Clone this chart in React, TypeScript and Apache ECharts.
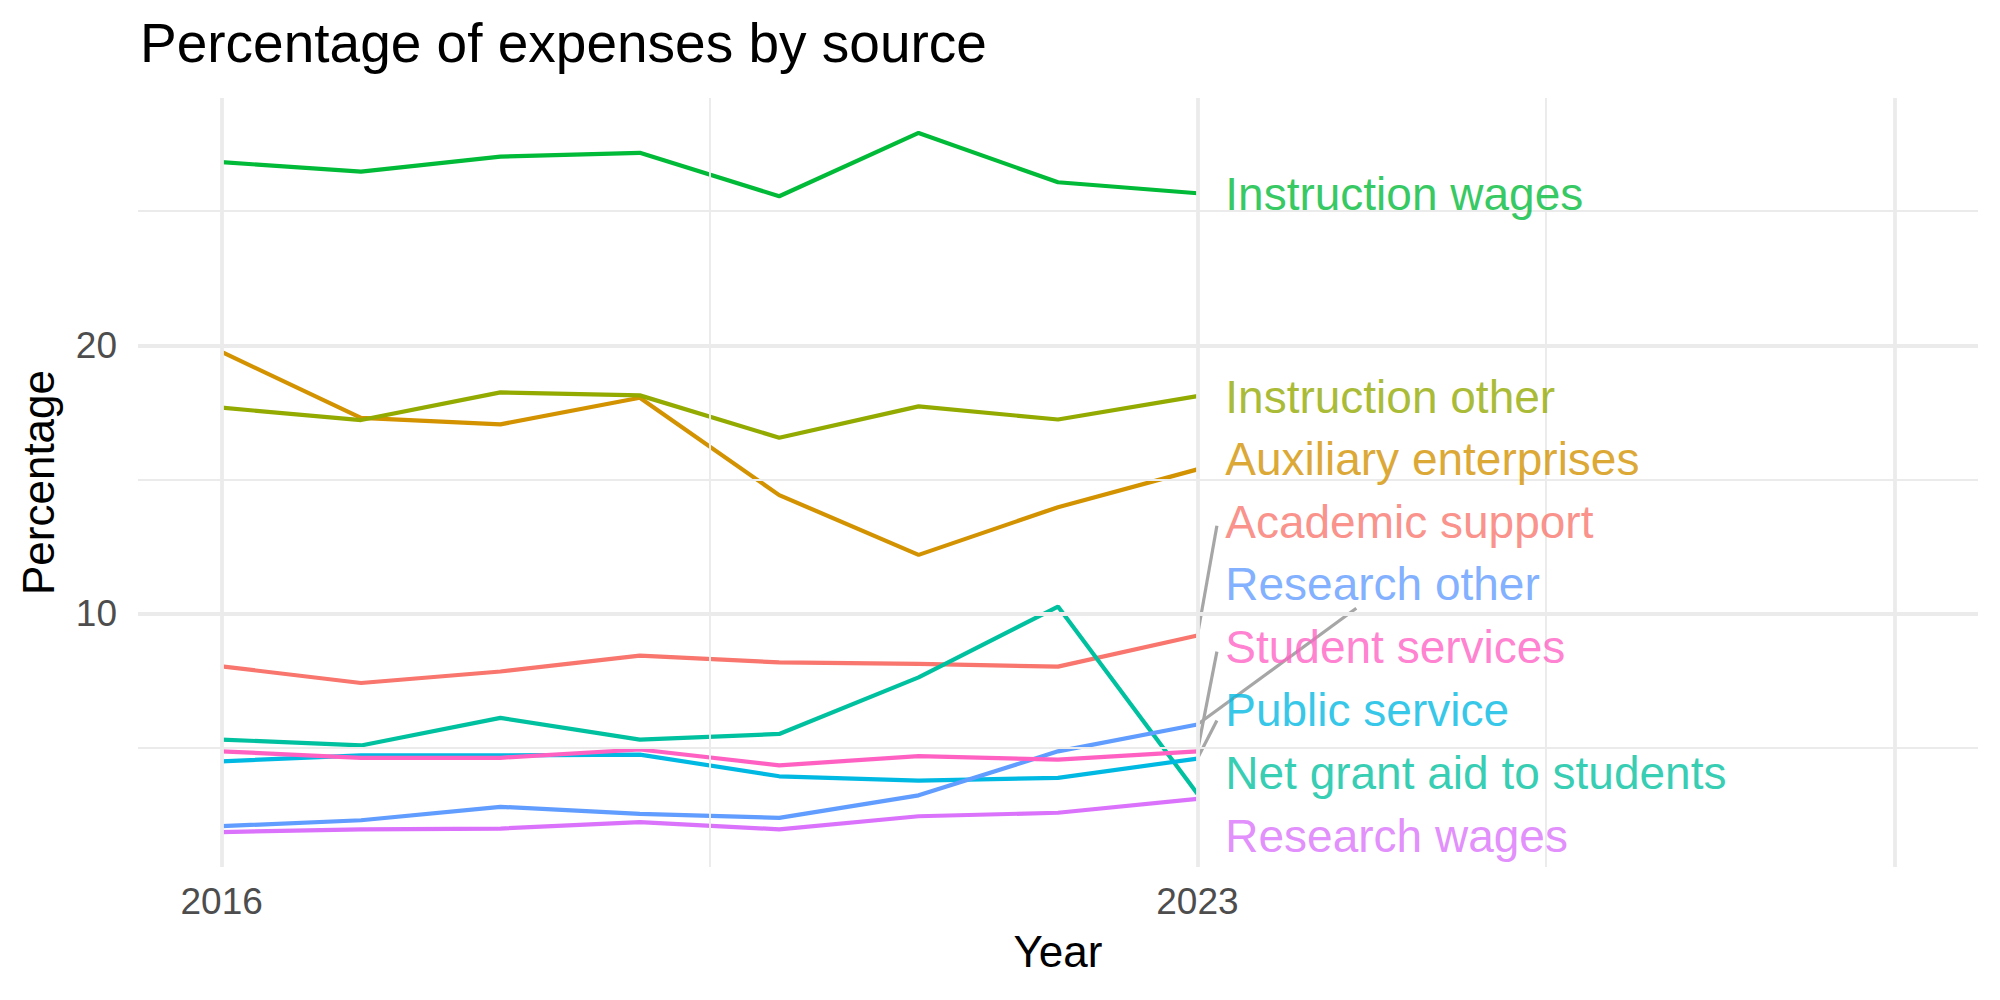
import React, { useEffect, useRef } from "react";
import * as echarts from "echarts";

const years = [2016, 2017, 2018, 2019, 2020, 2021, 2022, 2023];

const seriesNames = [
  "Academic support",
  "Auxiliary enterprises",
  "Instruction other",
  "Instruction wages",
  "Net grant aid to students",
  "Public service",
  "Research other",
  "Research wages",
  "Student services",
];

const seriesColors = [
  "#F8766D",
  "#D39200",
  "#93AA00",
  "#00BA38",
  "#00C19F",
  "#00B9E3",
  "#619CFF",
  "#DB72FB",
  "#FF61C3",
];

const academicSupport = [8.02, 7.4, 7.83, 8.42, 8.17, 8.11, 8.01, 9.17];
const auxiliaryEnterprises = [19.75, 17.29, 17.05, 18.04, 14.41, 12.18, 13.96, 15.37];
const instructionOther = [17.67, 17.21, 18.24, 18.13, 16.55, 17.72, 17.23, 18.1];
const instructionWages = [26.83, 26.48, 27.04, 27.18, 25.56, 27.92, 26.08, 25.67];
const netGrantAid = [5.29, 5.07, 6.1, 5.29, 5.5, 7.61, 10.25, 3.27];
const publicService = [4.48, 4.7, 4.7, 4.73, 3.92, 3.76, 3.86, 4.58];
const researchOther = [2.06, 2.28, 2.78, 2.52, 2.37, 3.21, 4.85, 5.85];
const researchWages = [1.84, 1.94, 1.97, 2.21, 1.94, 2.43, 2.56, 3.08];
const studentServices = [4.85, 4.61, 4.61, 4.92, 4.33, 4.67, 4.54, 4.85];

const seriesValues = [
  academicSupport,
  auxiliaryEnterprises,
  instructionOther,
  instructionWages,
  netGrantAid,
  publicService,
  researchOther,
  researchWages,
  studentServices,
];

// repelled label positions (data units), same order as seriesNames
const labelX = 2023.2;
const labelY = [13.42, 15.75, 18.06, 25.63, 4.06, 6.41, 11.08, 1.71, 8.75];

// leader segments: series index -> label-side end point (data units)
const leaderSeries = [0, 6, 8, 5];
const leaderEndX = [2023.14, 2024.14, 2023.14, 2023.14];
const leaderEndY = [13.27, 10.19, 8.57, 6.0];

const xBreaks = [2016, 2023, 2028];
const xBreakLabels = [2016, 2023];
const xMinorBreaks = [2019.5, 2025.5];
const xLimits = [2016, 2028];
const yBreaks = [10, 20];
const yMinorBreaks = [5, 15, 25];

const FONT = "'Liberation Sans', Arial, Helvetica, sans-serif";

export default function App() {
  const ref = useRef<HTMLDivElement>(null);

  useEffect(() => {
    if (!ref.current) return;
    document.body.style.margin = "0";
    const chart = echarts.init(ref.current, null, { renderer: "svg" });

    const allVals = seriesValues.flat();
    const yMinD = Math.min(...allVals);
    const yMaxD = Math.max(...allVals);
    const yExp = (yMaxD - yMinD) * 0.05;
    const xExp = (xLimits[1] - xLimits[0]) * 0.05;

    const gridColor = "#EBEBEB";
    const majorW = 3.8;
    const minorW = 1.9;

    const gridLineData: any[] = [
      ...xMinorBreaks.map((v) => ({ xAxis: v, lineStyle: { width: minorW } })),
      ...yMinorBreaks.map((v) => ({ yAxis: v, lineStyle: { width: minorW } })),
      ...xBreaks.map((v) => ({ xAxis: v, lineStyle: { width: majorW } })),
      ...yBreaks.map((v) => ({ yAxis: v, lineStyle: { width: majorW } })),
    ];

    const series: any[] = [
      {
        type: "line",
        data: [],
        z: 0,
        silent: true,
        markLine: {
          silent: true,
          symbol: ["none", "none"],
          label: { show: false },
          lineStyle: { color: gridColor, type: "solid" },
          emphasis: { disabled: true },
          data: gridLineData,
        },
      },
    ];

    seriesNames.forEach((name, i) => {
      series.push({
        name,
        type: "line",
        z: 3,
        showSymbol: false,
        symbol: "none",
        lineStyle: { color: seriesColors[i], width: 4.2 },
        itemStyle: { color: seriesColors[i] },
        data: years.map((y, j) => [y, seriesValues[i][j]]),
      });
    });

    leaderSeries.forEach((si, k) => {
      series.push({
        type: "line",
        z: 4,
        showSymbol: false,
        symbol: "none",
        silent: true,
        lineStyle: { color: "#A6A6A6", width: 3.2 },
        data: [
          [years[years.length - 1], seriesValues[si][years.length - 1]],
          [leaderEndX[k], leaderEndY[k]],
        ],
      });
    });

    series.push({
      type: "scatter",
      z: 5,
      symbolSize: 0,
      silent: true,
      data: seriesNames.map((name, i) => ({
        value: [labelX, labelY[i]],
        label: {
          show: true,
          position: "right",
          distance: 0,
          formatter: name,
          color: seriesColors[i],
          fontSize: 46,
          fontFamily: FONT,
        },
      })),
    });

    chart.setOption({
      animation: false,
      backgroundColor: "#FFFFFF",
      title: {
        text: "Percentage of expenses by source",
        left: 135,
        top: 10,
        textStyle: {
          fontSize: 55,
          fontWeight: "normal",
          color: "#000000",
          fontFamily: FONT,
        },
      },
      grid: { left: 138, right: 22, top: 98, bottom: 133 },
      xAxis: {
        type: "value",
        min: xLimits[0] - xExp,
        max: xLimits[1] + xExp,
        name: "Year",
        nameLocation: "middle",
        nameGap: 62,
        nameTextStyle: { fontSize: 44, color: "#000000", fontFamily: FONT },
        axisLine: { show: false },
        axisTick: { show: false },
        splitLine: { show: false },
        axisLabel: {
          customValues: xBreakLabels,
          formatter: (v: number) => String(v),
          fontSize: 37,
          color: "#4D4D4D",
          fontFamily: FONT,
          margin: 16,
          showMinLabel: true,
          showMaxLabel: true,
        },
      },
      yAxis: {
        type: "value",
        min: yMinD - yExp,
        max: yMaxD + yExp,
        name: "Percentage",
        nameLocation: "middle",
        nameGap: 78,
        nameRotate: 90,
        nameTextStyle: { fontSize: 44, color: "#000000", fontFamily: FONT },
        axisLine: { show: false },
        axisTick: { show: false },
        splitLine: { show: false },
        axisLabel: {
          customValues: yBreaks,
          formatter: (v: number) => String(v),
          fontSize: 37,
          color: "#4D4D4D",
          fontFamily: FONT,
          margin: 21,
        },
      },
      series,
    });

    return () => chart.dispose();
  }, []);

  return (
    <div
      ref={ref}
      style={{ position: "absolute", left: 0, top: 0, width: 2000, height: 1000 }}
    />
  );
}
